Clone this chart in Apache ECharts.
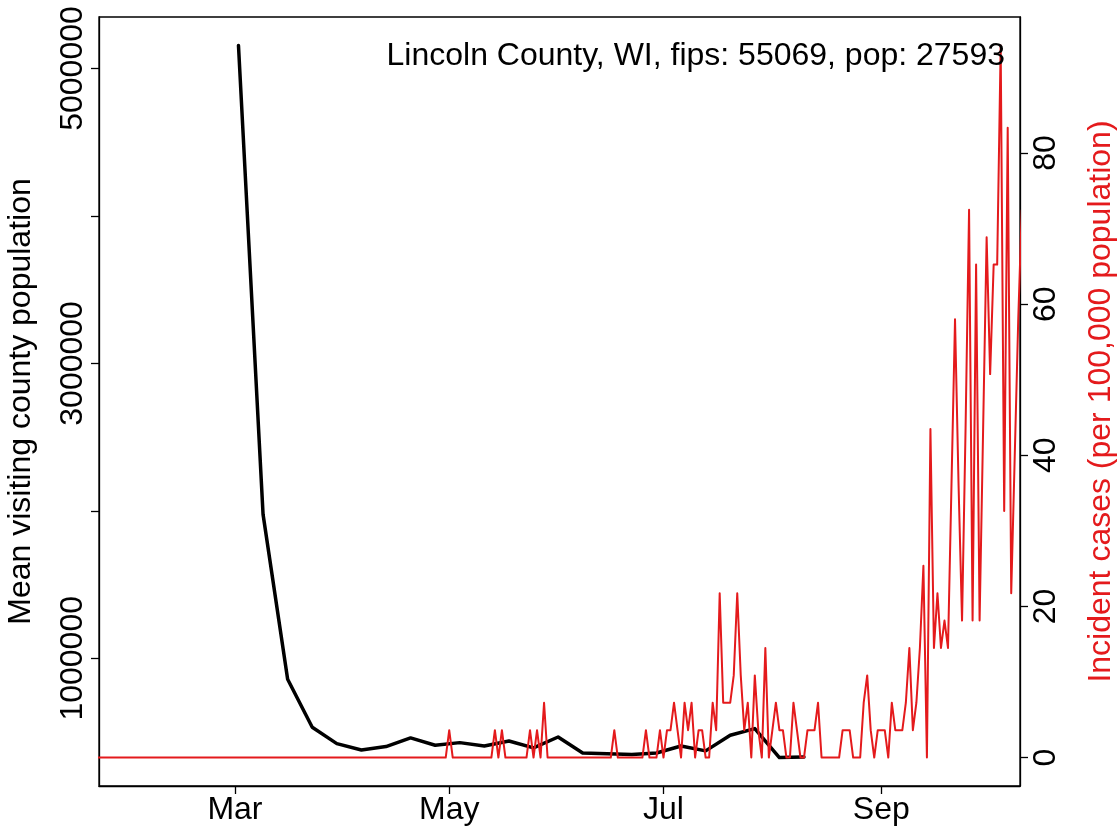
<!DOCTYPE html>
<html><head><meta charset="utf-8">
<script src="https://cdn.jsdelivr.net/npm/echarts@6/dist/echarts.min.js"></script>
<style>html,body{margin:0;padding:0;background:#fff}#c{width:1119px;height:830px}</style>
</head><body><div id="c"></div>
<script>
const chartTitle = 'Lincoln County, WI, fips: 55069, pop: 27593';
const leftAxisName = 'Mean visiting county population';
const rightAxisName = 'Incident cases (per 100,000 population)';

// weekly mean visiting county population (black)
const mobilityDates = ['2020-03-02','2020-03-09','2020-03-16','2020-03-23','2020-03-30','2020-04-06',
  '2020-04-13','2020-04-20','2020-04-27','2020-05-04','2020-05-11','2020-05-18','2020-05-25','2020-06-01',
  '2020-06-08','2020-06-15','2020-06-22','2020-06-29','2020-07-06','2020-07-13','2020-07-20','2020-07-27',
  '2020-08-03','2020-08-10'];
const mobilityValues = [5156000,1976000,858000,532000,421000,378000,401000,460000,410000,428000,405000,
  439000,392000,466000,358000,352000,348000,358000,405000,372000,478000,523000,327000,331000];

// daily incident cases per 100,000 (red), first day 2020-01-22
const caseStart = [2020, 0, 22];
const caseRates = [
  0,0,0,0,0,0,0,0,0,0, 0,0,0,0,0,0,0,0,0,0, 0,0,0,0,0,0,0,0,0,0, 0,0,0,0,0,0,0,0,0,0,
  0,0,0,0,0,0,0,0,0,0, 0,0,0,0,0,0,0,0,0,0, 0,0,0,0,0,0,0,0,0,0, 0,0,0,0,0,0,0,0,0,0,
  0,0,0,0,0,0,0,0,0,0, 0,0,0,0,0,0,0,0,0,0,
  3.62,0,0,0,0,0,0,0,0,0, 0,0,0,3.62,0,3.62,0,0,0,0, 0,0,0,3.62,0,3.62,0,7.25,0,0,
  0,0,0,0,0,0,0,0,0,0, 0,0,0,0,0,0,0,3.62,0,0, 0,0,0,0,0,0,3.62,0,0,0,
  3.62,0,3.62,3.62,7.25,3.62,0,7.25,3.62,7.25, 0,3.62,3.62,0,0,7.25,3.62,21.74,7.25,7.25,
  7.25,10.87,21.74,10.87,3.62,7.25,0,10.87,3.62,0, 14.5,0,3.62,7.25,3.62,3.62,0,0,7.25,3.62,
  0,0,3.62,3.62,3.62,7.25,0,0,0,0, 0,0,3.62,3.62,3.62,0,0,0,7.25,10.87,
  3.62,0,3.62,3.62,3.62,0,7.25,3.62,3.62,3.62, 7.25,14.5,3.62,7.25,14.5,25.37,0,43.49,14.5,21.74,
  14.5,18.12,14.5,36.24,57.99,36.24,18.12,43.49,72.48,18.12, 65.23,18.12,43.49,68.86,50.74,65.23,65.23,94.23,32.62,83.35,
  21.74,39.87,57.99,72.48
];

const leftTickValues = [1000000, 2000000, 3000000, 4000000, 5000000];
const leftLabelValues = [1000000, 3000000, 5000000];
const rightTickValues = [0, 20, 40, 60, 80];
const monthTickDates = [[2020, 2, 1], [2020, 4, 1], [2020, 6, 1], [2020, 8, 1]];
const monthTickLabels = ['Mar', 'May', 'Jul', 'Sep'];

const FONT = '"Liberation Sans", Arial, Helvetica, sans-serif';
const FS = 32;
const RED = '#E41A1C';

const monthTicks = monthTickDates.map(d => Date.UTC(d[0], d[1], d[2]));
const mobilityData = mobilityDates.map((d, i) => [Date.parse(d + 'T00:00:00Z'), mobilityValues[i]]);
const caseData = caseRates.map((v, i) => [Date.UTC(caseStart[0], caseStart[1], caseStart[2] + i), v]);

const chart = echarts.init(document.getElementById('c'), null, {renderer: 'canvas'});
chart.setOption({
  animation: false,
  backgroundColor: '#fff',
  title: {
    text: chartTitle, right: 114, top: 40, padding: 0,
    textStyle: {fontFamily: FONT, fontSize: FS, fontWeight: 'normal', color: '#000'}
  },
  grid: {left: 99, right: 99, top: 17, bottom: 44, show: true, borderColor: '#000', borderWidth: 1.3,
    containLabel: false, outerBoundsMode: 'none'},
  xAxis: {
    type: 'value',
    min: Date.UTC(2020, 0, 22, 7), max: Date.UTC(2020, 9, 10, 12),
    splitLine: {show: false},
    axisLine: {show: true, onZero: false, lineStyle: {color: '#000', width: 1.3}},
    axisTick: {show: true, length: 8, lineStyle: {color: '#000', width: 1.3}, customValues: monthTicks},
    axisLabel: {
      customValues: monthTicks, margin: 8, color: '#000', fontFamily: FONT, fontSize: FS,
      formatter: v => { const i = monthTicks.findIndex(t => Math.abs(t - v) < 1000); return i >= 0 ? monthTickLabels[i] : ''; }
    }
  },
  yAxis: [{
    type: 'value', position: 'left',
    min: 133840, max: 5349160,
    splitLine: {show: false},
    axisLine: {show: true, onZero: false, lineStyle: {color: '#000', width: 1.3}},
    axisTick: {show: true, length: 8, lineStyle: {color: '#000', width: 1.3}, customValues: leftTickValues},
    axisLabel: {customValues: leftLabelValues, rotate: 90, margin: 10, color: '#000', fontFamily: FONT, fontSize: FS,
      formatter: v => String(v)},
    name: leftAxisName, nameLocation: 'middle', nameRotate: 90, nameGap: 62,
    nameTextStyle: {color: '#000', fontFamily: FONT, fontSize: FS}
  }, {
    type: 'value', position: 'right',
    min: -3.769, max: 98.0,
    splitLine: {show: false},
    axisLine: {show: true, onZero: false, lineStyle: {color: '#000', width: 1.3}},
    axisTick: {show: true, length: 8, lineStyle: {color: '#000', width: 1.3}, customValues: rightTickValues},
    axisLabel: {customValues: rightTickValues, rotate: 90, margin: 10, color: '#000', fontFamily: FONT, fontSize: FS,
      formatter: v => String(v)},
    name: rightAxisName, nameLocation: 'middle', nameRotate: 90, nameGap: 65,
    nameTextStyle: {color: RED, fontFamily: FONT, fontSize: FS}
  }],
  series: [{
    type: 'line', yAxisIndex: 0, data: mobilityData, symbol: 'none',
    lineStyle: {color: '#000', width: 3.5, join: 'round', cap: 'round'}, z: 2
  }, {
    type: 'line', yAxisIndex: 1, data: caseData, symbol: 'none', clip: true,
    lineStyle: {color: RED, width: 2, join: 'round'}, z: 3
  }]
});
</script>
</body></html>
